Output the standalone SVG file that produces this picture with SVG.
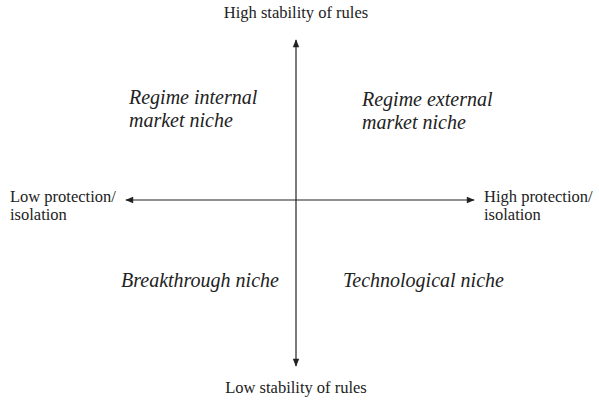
<svg xmlns="http://www.w3.org/2000/svg" width="599" height="402" viewBox="0 0 599 402">
  <style>
    .lbl { font-family: "Liberation Serif", "Times New Roman", serif; font-size: 16.5px; fill: #222; }
    .q { font-family: "Liberation Serif", "Times New Roman", serif; font-size: 20px; font-style: italic; fill: #222; }
    .axis { stroke: #222; stroke-width: 1.2; fill: none; }
  </style>
  <defs>
    <marker id="arr" viewBox="0 0 10 10" refX="9" refY="5" markerWidth="9" markerHeight="8" markerUnits="userSpaceOnUse" orient="auto-start-reverse">
      <path d="M0,1 L10,5 L0,9 Z" fill="#222"/>
    </marker>
  </defs>
  <rect width="599" height="402" fill="#fff"/>
  <g id="connectors">
    <line class="axis" x1="296" y1="40" x2="296" y2="366" marker-start="url(#arr)" marker-end="url(#arr)"/>
    <line class="axis" x1="126" y1="200" x2="474" y2="200" marker-start="url(#arr)" marker-end="url(#arr)"/>
  </g>
  <g id="axis-top"><text class="lbl" x="296" y="18" text-anchor="middle">High stability of rules</text></g>
  <g id="axis-bottom"><text class="lbl" x="296" y="393" text-anchor="middle">Low stability of rules</text></g>
  <g id="axis-left"><text class="lbl" x="10" y="202">Low protection/</text><text class="lbl" x="10" y="220">isolation</text></g>
  <g id="axis-right"><text class="lbl" x="484" y="202">High protection/</text><text class="lbl" x="484" y="220">isolation</text></g>
  <g id="regime-internal"><text class="q" x="129" y="104">Regime internal</text><text class="q" x="129" y="127">market niche</text></g>
  <g id="regime-external"><text class="q" x="362" y="106">Regime external</text><text class="q" x="362" y="129">market niche</text></g>
  <g id="breakthrough"><text class="q" x="121" y="287">Breakthrough niche</text></g>
  <g id="technological"><text class="q" x="343" y="287">Technological niche</text></g>
</svg>
